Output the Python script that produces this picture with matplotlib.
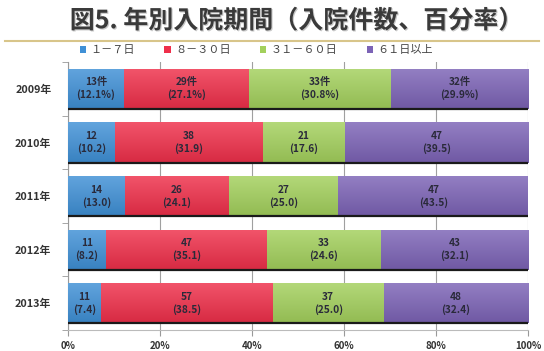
import numpy as np
import matplotlib
matplotlib.use('Agg')
import matplotlib.pyplot as plt
from matplotlib import patheffects
from matplotlib.colors import to_rgb

plt.rcParams['font.family'] = ['Noto Sans CJK JP', 'DejaVu Sans']

years = ['2009年', '2010年', '2011年', '2012年', '2013年']
periods = ['１－７日', '８－３０日', '３１－６０日', '６１日以上']

# admissions per length-of-stay bucket, one list per year
counts_1_7 = [13, 12, 14, 11, 11]
counts_8_30 = [29, 38, 26, 47, 57]
counts_31_60 = [33, 21, 27, 33, 37]
counts_61_up = [32, 47, 47, 43, 48]

# percentages as printed on the bars
pct_1_7 = ['12.1', '10.2', '13.0', '8.2', '7.4']
pct_8_30 = ['27.1', '31.9', '24.1', '35.1', '38.5']
pct_31_60 = ['30.8', '17.6', '25.0', '24.6', '25.0']
pct_61_up = ['29.9', '39.5', '43.5', '32.1', '32.4']

colors = ['#3f90d6', '#ef2f4a', '#a3d05c', '#7c63b6']

counts = np.array([counts_1_7, counts_8_30, counts_31_60, counts_61_up], dtype=float)
pcts = [pct_1_7, pct_8_30, pct_31_60, pct_61_up]
shares = counts / counts.sum(axis=0) * 100

fig = plt.figure(figsize=(5.44, 3.51), dpi=100)
ax = fig.add_axes([0.125, 0.06, 0.846, 0.763])

y = np.arange(len(years))
height = 0.75
left = np.zeros(len(years))


def lighten(c, amt):
    r = np.array(to_rgb(c))
    return r + (1 - r) * amt


for k in range(len(periods)):
    bars = ax.barh(y, shares[k], height, left=left, color=colors[k],
                   edgecolor='none', zorder=2, label=periods[k])
    # soft vertical gradient inside each bar
    for b in bars:
        x0, y0 = b.get_x(), b.get_y()
        w, h = b.get_width(), b.get_height()
        top = lighten(colors[k], 0.18)
        bot = np.array(to_rgb(colors[k])) * 0.9
        t = np.linspace(0, 1, 50)[:, None]
        grad = (top * (1 - t) + bot * t)[:, None, :]
        im = ax.imshow(grad, extent=[x0, x0 + w, y0 + h, y0], aspect='auto',
                       zorder=3, interpolation='bilinear')
        im.set_clip_path(b)
    for i in range(len(years)):
        n = int(counts[k, i])
        if i == 0:
            txt = f'{n}件\n({pcts[k][i]}%)'
        else:
            txt = f'{n}\n({pcts[k][i]})'
        ax.text(left[i] + shares[k, i] / 2, y[i], txt, ha='center', va='center',
                fontsize=7.3, fontweight='bold', color='#2a2a3a', zorder=5,
                linespacing=1.25)
    left = left + shares[k]

# dark shadow line under every bar
for i in range(len(years)):
    ax.plot([0, 100], [y[i] + height / 2, y[i] + height / 2], color='#1a1a1a',
            lw=1.6, zorder=4, solid_capstyle='butt')

ax.set_xlim(0, 100)
ax.set_ylim(len(years) - 0.5, -0.5)
ax.set_xticks([0, 20, 40, 60, 80, 100])
ax.set_xticklabels(['0%', '20%', '40%', '60%', '80%', '100%'],
                   fontsize=7, fontweight='bold', color='#333333')
ax.set_yticks(y)
ax.set_yticklabels(years, fontsize=7.8, fontweight='bold', color='#333333')
ax.set_yticks(np.arange(len(years) + 1) - 0.5, minor=True)
ax.tick_params(axis='y', which='major', length=0, pad=12)
ax.tick_params(axis='y', which='minor', length=4, color='#999999')
ax.tick_params(axis='x', length=4, color='#999999', pad=4)
ax.grid(axis='x', color='#a0a0a0', lw=0.8, zorder=0)
for s in ['top', 'right']:
    ax.spines[s].set_visible(False)
ax.spines['left'].set_color('#999999')
ax.spines['bottom'].set_color('#bbbbbb')

# title with rule and legend
fig.text(0.545, 0.94, '図5. 年別入院期間（入院件数、百分率）', ha='center', va='center',
         fontsize=18, fontweight='bold', color='#3a3a3a',
         path_effects=[patheffects.withSimplePatchShadow(offset=(0.8, -0.8),
                                                         shadow_rgbFace='#bbbbbb', alpha=0.8)])
fig.add_artist(plt.Line2D([0.01, 0.99], [0.882, 0.882], color='#d8c58a', lw=1.5))
fig.legend(loc='center left', bbox_to_anchor=(0.128, 0.857), ncol=4, frameon=False,
           fontsize=8, handlelength=0.6, handleheight=0.6, handletextpad=0.4,
           columnspacing=2.6, labelcolor='#444444')

fig.savefig('out.png', dpi=100)
